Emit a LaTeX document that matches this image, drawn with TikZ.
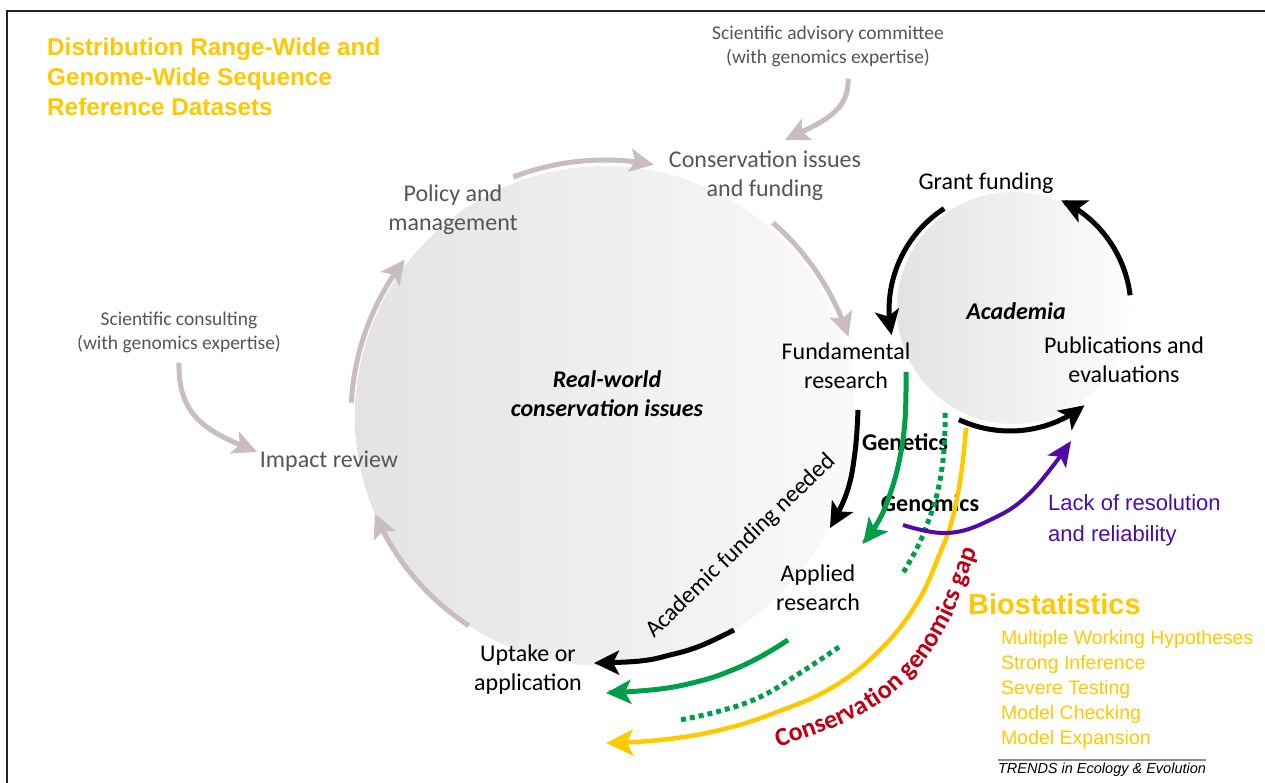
\documentclass[tikz,border=0pt]{standalone}
\usepackage{fontspec}
\setmainfont{Carlito}
\newfontfamily\arialf{Liberation Sans}
\usetikzlibrary{arrows.meta,decorations.text}
\definecolor{gold}{RGB}{255,200,0}
\definecolor{pinkgray}{RGB}{201,189,189}
\definecolor{grn}{RGB}{0,158,73}
\definecolor{purp}{RGB}{78,10,172}
\definecolor{dred}{RGB}{190,0,20}
\definecolor{txtgray}{RGB}{85,85,85}
\tikzset{
  lbl/.style={align=center, inner sep=0pt, font=\fontsize{24}{29}\selectfont, text=black},
  glbl/.style={lbl, text=txtgray},
  smalllbl/.style={align=center, inner sep=0pt, font=\fontsize{19.5}{24}\selectfont, text=txtgray},
  bilbl/.style={lbl, font=\bfseries\itshape\fontsize{24}{29}\selectfont},
  boldlbl/.style={lbl, font=\bfseries\fontsize{24}{29}\selectfont},
  garrow/.style={pinkgray, line width=5pt, -{Stealth[length=24pt,width=23pt,inset=5pt]}},
  barrow/.style={black, line width=5pt, -{Stealth[length=25pt,width=24pt,inset=6pt]}},
  grarrow/.style={grn, line width=5pt, -{Stealth[length=25pt,width=24pt,inset=6pt]}},
  grdots/.style={grn, line width=5pt, dash pattern=on 5pt off 4pt},
  yarrow/.style={gold, line width=4.5pt, -{Stealth[length=27pt,width=26pt,inset=6pt]}},
  parrow/.style={purp, line width=4pt, -{Stealth[length=25pt,width=22pt,inset=6pt]}},
  bgcircle/.style={circle, inner sep=0pt, draw=none}
}
\begin{document}
\begin{tikzpicture}[x=1pt,y=-1pt]
\useasboundingbox (0,0) rectangle (1265,783);
% frame
\draw[black!85, line width=2pt] (7,783) -- (7,11) -- (1265,11);
% circles
\node[bgcircle, minimum size=500pt, left color=black!11, right color=black!2] (world) at (605,416) {};
\node[bgcircle, minimum size=232pt, left color=black!11, right color=black!1] (acadc) at (1013,308) {};

% title
\node[anchor=north west, align=left, inner sep=0pt, font=\arialf\bfseries\fontsize{24.3}{30}\selectfont, text=gold] (title) at (47,38) {Distribution Range-Wide and\\Genome-Wide Sequence\\Reference Datasets};

% labels
\node[smalllbl] (adv) at (828,46) {Scientific advisory committee\\(with genomics expertise)};
\node[glbl] (cons) at (765,176) {Conservation issues\\and funding};
\node[glbl] (policy) at (453,210) {Policy and\\management};
\node[smalllbl] (consult) at (179,332) {Scientific consulting\\(with genomics expertise)};
\node[glbl] (impact) at (329,461) {Impact review};
\node[lbl] (fund) at (846,366) {Fundamental\\research};
\node[bilbl] (real) at (607,394) {Real-world\\conservation issues};
\node[bilbl] (acad) at (1016,311) {Academia};
\node[lbl] (grant) at (986,183) {Grant funding};
\node[lbl] (pub) at (1124,360) {Publications and\\evaluations};
\node[lbl] (applied) at (818,588) {Applied\\research};
\node[lbl] (uptake) at (528,670) {Uptake or\\application};
\node[boldlbl] (genetics) at (905,442) {Genetics};
\node[boldlbl] (genomics) at (930,503) {Genomics};
\node[lbl, rotate=44] (afn) at (741,546) {Academic funding needed};
\node[anchor=west, align=left, inner sep=0pt, font=\arialf\fontsize{22}{31}\selectfont, text=purp] (lack) at (1048,520) {Lack of resolution\\and reliability};
\node[anchor=west, inner sep=0pt, font=\arialf\bfseries\fontsize{29}{34}\selectfont, text=gold] (bio) at (968,604) {Biostatistics};
\node[anchor=west, align=left, inner sep=0pt, font=\arialf\fontsize{19.5}{25}\selectfont, text=gold] (list) at (1001,689) {Multiple Working Hypotheses\\Strong Inference\\Severe Testing\\Model Checking\\Model Expansion};
\draw[black!45, line width=1.5pt] (998,760) -- (1206,760);
\node[inner sep=0pt, font=\arialf\itshape\fontsize{14.5}{17}\selectfont] (trends) at (1102,770) {TRENDS in Ecology \& Evolution};

% grey cycle arrows around the real-world circle
\draw[garrow] plot[domain=-111:-79, samples=30, variable=\t] ({605+256*cos(\t)},{416+256*sin(\t)});
\draw[garrow] plot[domain=-49:-18, samples=30, variable=\t] ({605+256*cos(\t)},{416+256*sin(\t)});
\draw[garrow] plot[domain=-177:-142, samples=30, variable=\t] ({605+254*cos(\t)},{416+254*sin(\t)});
\draw[garrow] plot[domain=123:157, samples=30, variable=\t] ({605+250*cos(\t)},{416+250*sin(\t)});
% external grey arrows
\coordinate (consultend) at (257,452);
\draw[garrow] (consult.south) ++(0,10) .. controls (178,410) and (200,428) .. (consultend);
\coordinate (advend) at (785,140);
\draw[garrow] (adv.south) ++(20,12) .. controls (850,110) and (822,122) .. (advend);

% academia cycle
\draw[barrow] plot[domain=237:168, samples=30, variable=\t] ({1010+121*cos(\t)},{310+121*sin(\t)});
\draw[barrow] plot[domain=353:295, samples=30, variable=\t] ({1010+121*cos(\t)},{310+121*sin(\t)});
\draw[barrow] plot[domain=115:52, samples=30, variable=\t] ({1010+121*cos(\t)},{310+121*sin(\t)});

% genetics / genomics paths
\draw[barrow] plot[smooth, tension=0.7] coordinates {(858,410) (855,452) (847,492) (830,528)};
\draw[grarrow] plot[smooth, tension=0.7] coordinates {(906,372) (905,420) (899,462) (889,497) (878,522) (863,544)};
\draw[grdots] plot[smooth, tension=0.7] coordinates {(945,413) (944,450) (938,490) (928,522) (917,548) (903,573)};
\draw[barrow] plot[smooth, tension=0.7] coordinates {(734,630) (700,646) (670,655) (640,661) (594,663)};
\draw[grarrow] plot[smooth, tension=0.7] coordinates {(788,640) (760,657) (730,671) (700,681) (660,689) (606,693)};
\draw[grdots] plot[smooth, tension=0.7] coordinates {(839,647) (800,673) (760,697) (720,711) (680,720)};
\draw[yarrow] plot[smooth, tension=0.7] coordinates {(966,428) (961,475) (952,520) (940,553) (917,603) (880,650) (833,687) (777,712) (720,730) (660,740) (606,743)};
\draw[parrow] plot[smooth, tension=0.7] coordinates {(903,525) (947,533) (990,520) (1030,493) (1071,441)};

% curved label
\path[decorate, decoration={text along path, text align=left, text color=dred,
  text={|\bfseries\fontsize{26}{30}\selectfont|Conservation genomics gap}}]
  plot[smooth, tension=0.7] coordinates {(778,747) (853,719) (908,680) (946,628) (969,572) (982,532) (990,492)};
\end{tikzpicture}
\end{document}
